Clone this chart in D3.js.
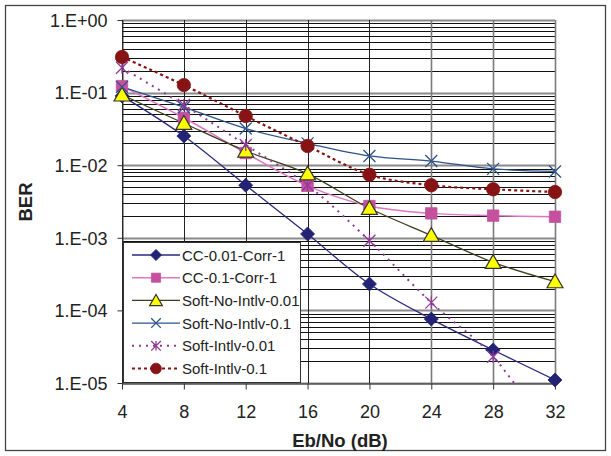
<!DOCTYPE html>
<html><head><meta charset="utf-8">
<script src="https://cdn.jsdelivr.net/npm/d3@7"></script>
<style>body{margin:0;background:#fff;} svg{display:block;font-family:"Liberation Sans",Arial,sans-serif;} .tk text{font-size:18px;font-family:"Liberation Sans",Arial,sans-serif;}</style>
</head><body>
<svg id="c" width="611" height="456"></svg>
<script>
const ebno = [4, 8, 12, 16, 20, 24, 28, 32];
const cc001 = [0.09, 0.0252, 0.0053, 0.00113, 2.31e-4, 7.6e-5, 2.85e-5, 1.1e-5];
const cc01 = [0.123, 0.045, 0.0147, 0.0052, 0.00274, 0.00217, 0.00202, 0.00195];
const softNoIntlv001 = [0.093, 0.0378, 0.0157, 0.0076, 0.00255, 0.00108, 4.6e-4, 2.49e-4];
const softNoIntlv01 = [0.12, 0.063, 0.032, 0.02, 0.0134, 0.0114, 0.0089, 0.0082];
const softIntlv001 = [0.22, 0.0675, 0.019, 0.0053, 9.1e-4, 1.28e-4, 2.3e-5, 1.5e-6];
const softIntlv01 = [0.31, 0.127, 0.0476, 0.0184, 0.0074, 0.0053, 0.00466, 0.00427];
const seriesNames = ["CC-0.01-Corr-1", "CC-0.1-Corr-1", "Soft-No-Intlv-0.01", "Soft-No-Intlv-0.1", "Soft-Intlv-0.01", "Soft-Intlv-0.1"];
const yTickLabels = ["1.E+00", "1.E-01", "1.E-02", "1.E-03", "1.E-04", "1.E-05"];
const xTitle = "Eb/No (dB)";
const yTitle = "BER";

const styles = [
  {line:"#2a2a80", dash:null, w:1.3, marker:"diamond", fill:"#232375", stroke:"#232375", size:7},
  {line:"#dd77c4", dash:null, w:1.5, marker:"square", fill:"#c4509e", stroke:"#c4509e", size:130},
  {line:"#3e3e22", dash:null, w:1.3, marker:"triangle", fill:"#ffff00", stroke:"#333", size:110},
  {line:"#2c5289", dash:null, w:1.3, marker:"x", fill:"none", stroke:"#2c5289", size:0},
  {line:"#8f3a96", dash:"2,5", w:2, marker:"asterisk", fill:"none", stroke:"#8f3a96", size:0},
  {line:"#861414", dash:"3,3", w:2.2, marker:"circle", fill:"#861414", stroke:"#861414", size:140}
];
const data = [cc001, cc01, softNoIntlv001, softNoIntlv01, softIntlv001, softIntlv01];

const svg = d3.select("#c");
const L = 122, R = 555, T = 20, B = 383;
const x = d3.scaleLinear().domain([4, 32]).range([L, R]);
const y = d3.scaleLog().domain([1e-5, 1]).range([B, T]);

// outer border
svg.append("rect").attr("x",5.5).attr("y",5.5).attr("width",600).attr("height",445)
  .attr("fill","none").attr("stroke","#444").attr("stroke-width",1.3);

// minor horizontal gridlines
const minor = [];
for (let e = -5; e < 0; e++) for (let m = 2; m <= 9; m++) minor.push(m * Math.pow(10, e));
svg.append("g").selectAll("line").data(minor).join("line")
  .attr("x1",L).attr("x2",R).attr("y1",d=>Math.round(y(d))+0.5).attr("y2",d=>Math.round(y(d))+0.5)
  .attr("stroke","#111").attr("stroke-width",1);
// major horizontal gridlines
const major = d3.range(-5, 1).map(e => Math.pow(10, e));
svg.append("g").selectAll("line").data(major).join("line")
  .attr("x1",L).attr("x2",R).attr("y1",d=>Math.round(y(d))+0.5).attr("y2",d=>Math.round(y(d))+0.5)
  .attr("stroke","#8a8a8a").attr("stroke-width",2);
// vertical gridlines
svg.append("g").selectAll("line").data(ebno).join("line")
  .attr("x1",d=>Math.round(x(d))+0.5).attr("x2",d=>Math.round(x(d))+0.5).attr("y1",T).attr("y2",B)
  .attr("stroke",(d,i)=> i>=5 ? "#7a7a7a" : "#222").attr("stroke-width",(d,i)=> i>=5 ? 1.6 : 1);

// axes
const yAxis = d3.axisLeft(y).tickValues(major).tickFormat((d,i)=>yTickLabels[5 - i]).tickSize(5).tickSizeOuter(0);
const gy = svg.append("g").attr("class","tk").attr("transform",`translate(${L+0.5},0)`).call(yAxis)
  .attr("font-size",18).attr("font-family","Liberation Sans, Arial, sans-serif");
gy.selectAll("text").attr("font-size",18).attr("fill","#222").attr("x",-15).attr("dy","0.35em");
gy.selectAll("line").attr("stroke","#333");
gy.select(".domain").attr("stroke","#333");
const xAxis = d3.axisBottom(x).tickValues(ebno).tickSize(6).tickSizeOuter(0);
const gx = svg.append("g").attr("class","tk").attr("transform",`translate(0,${B+0.5})`).call(xAxis)
  .attr("font-size",18).attr("font-family","Liberation Sans, Arial, sans-serif");
gx.selectAll("text").attr("font-size",18).attr("fill","#222").attr("y",34.5).attr("dy",0);
gx.selectAll("line").attr("stroke","#333");
gx.select(".domain").attr("stroke","#333");

// titles
svg.append("text").attr("x",340).attr("y",447).attr("text-anchor","middle")
  .attr("font-size",18.5).attr("font-weight","bold").attr("fill","#222").text(xTitle);
svg.append("text").attr("transform","translate(32,202) rotate(-90)").attr("text-anchor","middle")
  .attr("font-size",18.5).attr("font-weight","bold").attr("fill","#222").text(yTitle);

// clip
svg.append("clipPath").attr("id","pc").append("rect").attr("x",L).attr("y",T).attr("width",R-L).attr("height",B-T);

function drawMarker(g, type, st, cx, cy, scale) {
  scale = scale || 1;
  if (type === "x") {
    const s = 6*scale;
    g.append("path").attr("d",`M${cx-s},${cy-s}L${cx+s},${cy+s}M${cx-s},${cy+s}L${cx+s},${cy-s}`)
      .attr("stroke",st.stroke).attr("stroke-width",1.3).attr("fill","none");
  } else if (type === "asterisk") {
    const s = 6*scale;
    g.append("path").attr("d",`M${cx-s},${cy-s}L${cx+s},${cy+s}M${cx-s},${cy+s}L${cx+s},${cy-s}M${cx},${cy-s}L${cx},${cy+s}`)
      .attr("stroke",st.stroke).attr("stroke-width",1.3).attr("fill","none");
  } else if (type === "diamond") {
    const s = st.size*scale;
    g.append("path").attr("d",`M${cx},${cy-s}L${cx+s},${cy}L${cx},${cy+s}L${cx-s},${cy}Z`)
      .attr("fill",st.fill).attr("stroke",st.stroke).attr("stroke-width",0.8);
  } else {
    const sym = {square:d3.symbolSquare, triangle:d3.symbolTriangle, circle:d3.symbolCircle}[type];
    let off = type === "triangle" ? 1.5 : 0;
    g.append("path").attr("d", d3.symbol().type(sym).size(st.size*scale*scale)())
      .attr("transform",`translate(${cx},${cy+off})`)
      .attr("fill",st.fill).attr("stroke",st.stroke).attr("stroke-width", type==="triangle"?1.2:0.8);
  }
}

const lineGen = d3.line().x((d,i)=>x(ebno[i])).y(d=>y(d)).curve(d3.curveCatmullRom.alpha(0.5));
const plot = svg.append("g").attr("clip-path","url(#pc)");
data.forEach((vals, si) => {
  const st = styles[si];
  plot.append("path").attr("d", lineGen(vals)).attr("fill","none").attr("stroke",st.line)
    .attr("stroke-width",st.w).attr("stroke-dasharray",st.dash);
});
const mk = svg.append("g");
data.forEach((vals, si) => {
  const st = styles[si];
  vals.forEach((v,i) => { if (v >= 1e-5) drawMarker(mk, st.marker, st, x(ebno[i]), y(v)); });
});

// legend
const lg = svg.append("g");
lg.append("rect").attr("x",123.5).attr("y",242.5).attr("width",177).attr("height",140)
  .attr("fill","#fff").attr("stroke","#333").attr("stroke-width",1);
seriesNames.forEach((name, i) => {
  const st = styles[i];
  const ly = 255 + i*22.7;
  lg.append("line").attr("x1",132).attr("x2",180).attr("y1",ly).attr("y2",ly)
    .attr("stroke",st.line).attr("stroke-width",st.w).attr("stroke-dasharray",st.dash);
  drawMarker(lg, st.marker, st, 156, ly, 0.8);
  lg.append("text").attr("x",182).attr("y",ly+5.5).attr("font-size",15).attr("fill","#222").text(name);
});
</script>
</body></html>
